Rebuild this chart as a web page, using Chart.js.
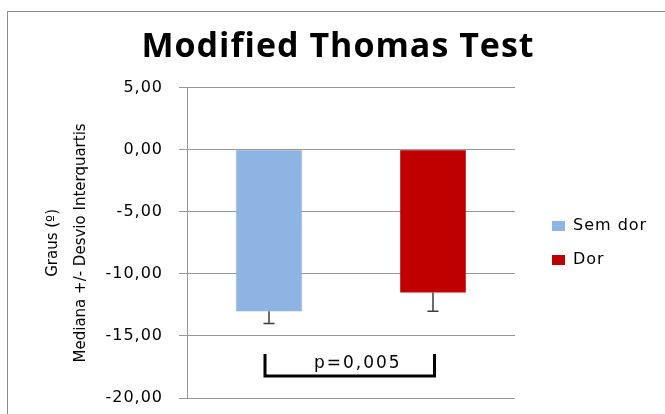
<!DOCTYPE html>
<html><head><meta charset="utf-8">
<script src="https://cdn.jsdelivr.net/npm/chart.js@4/dist/chart.umd.min.js"></script>
<style>html,body{margin:0;padding:0;background:#fff;}canvas{display:block;}</style>
</head><body>
<canvas id="c" width="665" height="414"></canvas>
<script>
// ---- data ----
const chartTitle = 'Modified Thomas Test';
const categories = [''];
const seriesNames = ['Sem dor', 'Dor'];
const semDorValues = [-13.0];
const dorValues = [-11.5];
const semDorErrorDown = [1.0];
const dorErrorDown = [1.5];
const yTickValues = [5, 0, -5, -10, -15, -20];
const yTickLabels = ['5,00', '0,00', '-5,00', '-10,00', '-15,00', '-20,00'];
const yAxisTitle = ['Graus (º)', 'Mediana +/- Desvio Interquartis'];
const pValueLabel = 'p=0,005';
const bracketTopValue = -16.45;
const bracketBottomValue = -18.23;
const pTextValue = -17.2;

function withSpacing(obj, method, spacing) {
  if (!obj || obj['__sp_' + method]) return;
  const orig = obj[method].bind(obj);
  obj[method] = function () {
    const ctx = this.ctx; ctx.save(); ctx.letterSpacing = spacing;
    const r = orig.apply(null, arguments); ctx.restore(); return r;
  };
  obj['__sp_' + method] = true;
}

const framePlugin = {
  id: 'frame',
  beforeLayout(chart) {
    const L = chart.legend;
    if (L && !L.__fitWrapped) {
      const f = L.fit.bind(L);
      L.fit = function () { f(); this.width = 131; };
      L.__fitWrapped = true;
    }
  },
  beforeDraw(chart) {
    const ctx = chart.ctx;
    ctx.save();
    ctx.fillStyle = '#fff';
    ctx.fillRect(0, 0, chart.width, chart.height);
    ctx.strokeStyle = '#8a8a8a';
    ctx.lineWidth = 1;
    ctx.strokeRect(7.5, 11.5, 800, 600);
    ctx.restore();
    withSpacing(chart.scales.y, 'drawLabels', '1px');
    withSpacing(chart.legend, 'draw', '1px');
    withSpacing(chart.titleBlock, 'draw', '1px');
  }
};

const errorBarPlugin = {
  id: 'errorBars',
  afterDatasetsDraw(chart) {
    const ctx = chart.ctx, y = chart.scales.y;
    chart.data.datasets.forEach((ds, di) => {
      const meta = chart.getDatasetMeta(di);
      meta.data.forEach((bar, i) => {
        const v = ds.data[i], e = ds.errorDown[i];
        const y0 = y.getPixelForValue(v), y1 = y.getPixelForValue(v - e);
        ctx.save();
        ctx.strokeStyle = '#3c3c3c';
        ctx.lineWidth = 1.5;
        ctx.beginPath();
        ctx.moveTo(bar.x, y0); ctx.lineTo(bar.x, y1);
        ctx.moveTo(bar.x - 5.5, y1); ctx.lineTo(bar.x + 5.5, y1);
        ctx.stroke();
        ctx.restore();
      });
    });
  }
};

const bracketPlugin = {
  id: 'bracket',
  afterDraw(chart) {
    const ctx = chart.ctx, y = chart.scales.y;
    const b0 = chart.getDatasetMeta(0).data[0], b1 = chart.getDatasetMeta(1).data[0];
    const left = b0.x - 4, right = b1.x + 1.5;
    const top = y.getPixelForValue(bracketTopValue), bottom = y.getPixelForValue(bracketBottomValue);
    ctx.save();
    ctx.strokeStyle = '#000';
    ctx.lineWidth = 3;
    ctx.lineJoin = 'miter';
    ctx.beginPath();
    ctx.moveTo(left, top); ctx.lineTo(left, bottom); ctx.lineTo(right, bottom); ctx.lineTo(right, top);
    ctx.stroke();
    ctx.fillStyle = '#000';
    ctx.font = '17px "DejaVu Sans"';
    ctx.letterSpacing = '2px';
    ctx.textAlign = 'center';
    ctx.textBaseline = 'middle';
    ctx.fillText(pValueLabel, (left + right) / 2 + 8, y.getPixelForValue(pTextValue));
    ctx.restore();
  }
};

new Chart(document.getElementById('c'), {
  type: 'bar',
  data: {
    labels: categories,
    datasets: [
      { label: seriesNames[0], data: semDorValues, errorDown: semDorErrorDown, backgroundColor: '#8eb4e3', borderWidth: 0 },
      { label: seriesNames[1], data: dorValues, errorDown: dorErrorDown, backgroundColor: '#c00000', borderWidth: 0 }
    ]
  },
  options: {
    responsive: false,
    devicePixelRatio: 1,
    animation: false,
    layout: { padding: { left: 11, right: 0, top: 0, bottom: 16 } },
    datasets: { bar: { categoryPercentage: 1.0, barPercentage: 0.4 } },
    scales: {
      x: { display: false },
      y: {
        position: 'left',
        min: -20, max: 5,
        afterBuildTicks: s => { s.ticks = yTickValues.map(v => ({ value: v })); },
        afterFit: s => { s.width = 176; s.paddingTop = 0; s.paddingBottom = 0; },
        ticks: {
          callback: v => yTickLabels[yTickValues.indexOf(v)],
          font: { family: 'DejaVu Sans', size: 16 },
          color: '#000',
          padding: 16
        },
        grid: { color: '#969696', lineWidth: 1, drawTicks: true, tickLength: 8, tickColor: '#969696' },
        border: { display: true, color: '#969696', width: 1 },
        title: {
          display: true,
          text: yAxisTitle,
          color: '#000',
          font: { family: 'DejaVu Sans', size: 15, lineHeight: '28px' },
          padding: { top: 28, bottom: 0 }
        }
      },
      yGap: {
        type: 'linear',
        position: 'right',
        display: true,
        grid: { display: false, drawTicks: false },
        border: { display: false },
        ticks: { display: false },
        afterFit: s => { s.width = 19; s.paddingTop = 0; s.paddingBottom = 0; }
      }
    },
    plugins: {
      title: {
        display: true,
        text: chartTitle,
        color: '#000',
        font: { family: 'Open Sans', size: 34, weight: 'bold', lineHeight: 1.2 },
        padding: { top: 27, bottom: 20 }
      },
      legend: {
        position: 'right',
        align: 'center',
        fullSize: false,
        labels: {
          boxWidth: 13, boxHeight: 10, padding: 18,
          color: '#000',
          font: { family: 'DejaVu Sans', size: 16 }
        }
      },
      tooltip: { enabled: false }
    }
  },
  plugins: [framePlugin, errorBarPlugin, bracketPlugin]
});
</script>
</body></html>
